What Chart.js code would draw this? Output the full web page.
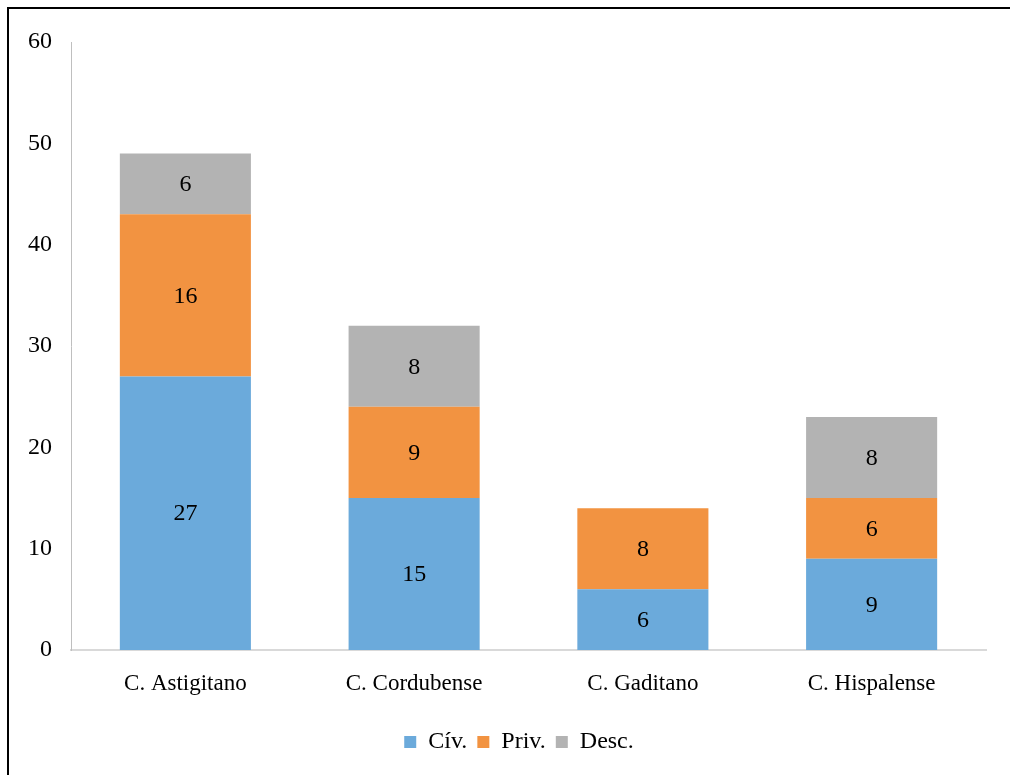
<!DOCTYPE html>
<html>
<head>
<meta charset="utf-8">
<script src="https://cdn.jsdelivr.net/npm/chart.js@4/dist/chart.umd.min.js"></script>
<style>
  html,body{margin:0;padding:0;background:#fff;}
  #wrap{position:relative;width:1010px;height:775px;overflow:hidden;}
  #frame{position:absolute;left:7px;top:7px;width:1010px;height:775px;border-left:2px solid #000;border-top:2px solid #000;}
  #chart{position:absolute;left:0;top:0;}
</style>
</head>
<body>
<div id="wrap">
  <div id="frame"></div>
  <canvas id="chart" width="1010" height="775"></canvas>
</div>
<script>
const categories = ['C. Astigitano','C. Cordubense','C. Gaditano','C. Hispalense'];
const civ  = [27, 15, 6, 9];
const priv = [16, 9, 8, 6];
const desc = [6, 8, 0, 8];
const yTicks = [0,10,20,30,40,50,60];

const FONT = "'Liberation Serif', 'Times New Roman', serif";

// labels in the middle of each stacked segment
const segLabels = {
  id: 'segLabels',
  afterDatasetsDraw(chart) {
    const ctx = chart.ctx;
    ctx.save();
    ctx.font = '24px ' + FONT;
    ctx.fillStyle = '#000';
    ctx.textAlign = 'center';
    ctx.textBaseline = 'middle';
    chart.data.datasets.forEach((ds, i) => {
      chart.getDatasetMeta(i).data.forEach((bar, j) => {
        const v = ds.data[j];
        if (!v) return;
        ctx.fillText(String(v), bar.x, (bar.y + bar.base) / 2 + 1);
      });
    });
    ctx.restore();
  }
};

// the legend sits a bit right of the canvas centre in the original
const legendShift = {
  id: 'legendShift',
  afterLayout(chart) {
    const lg = chart.legend;
    if (!lg) return;
    lg.left += 26;
    lg.right += 26;
  }
};

new Chart(document.getElementById('chart'), {
  type: 'bar',
  data: {
    labels: categories,
    datasets: [
      { label: 'Cív.',  data: civ,  backgroundColor: '#6BAADB' },
      { label: 'Priv.', data: priv, backgroundColor: '#F29341' },
      { label: 'Desc.', data: desc, backgroundColor: '#B3B3B3' },
    ],
  },
  options: {
    responsive: false,
    animation: false,
    devicePixelRatio: 1,
    datasets: { bar: { barPercentage: 0.573, categoryPercentage: 1 } },
    layout: { padding: { left: 0, right: 24, top: 42, bottom: 11 } },
    plugins: {
      legend: {
        position: 'bottom',
        labels: { boxWidth: 12, boxHeight: 12, padding: 10, color: '#000', font: { family: FONT, size: 24 } },
      },
      tooltip: { enabled: false },
    },
    scales: {
      x: {
        stacked: true,
        grid: { display: false, drawTicks: false },
        border: { color: '#d9d9d9', width: 2 },
        ticks: { color: '#000', padding: 20, font: { family: FONT, size: 23 } },
        afterFit: s => { s.height = 70; },
      },
      y: {
        stacked: true,
        min: 0, max: 60,
        grid: { display: false, drawTicks: false },
        border: { color: '#bfbfbf', width: 1 },
        afterBuildTicks: s => { s.ticks = yTicks.map(v => ({ value: v })); },
        ticks: { color: '#000', padding: 19, font: { family: FONT, size: 24 } },
        afterFit: s => { s.width = 71; },
      },
    },
  },
  plugins: [segLabels, legendShift],
});
</script>
</body>
</html>
